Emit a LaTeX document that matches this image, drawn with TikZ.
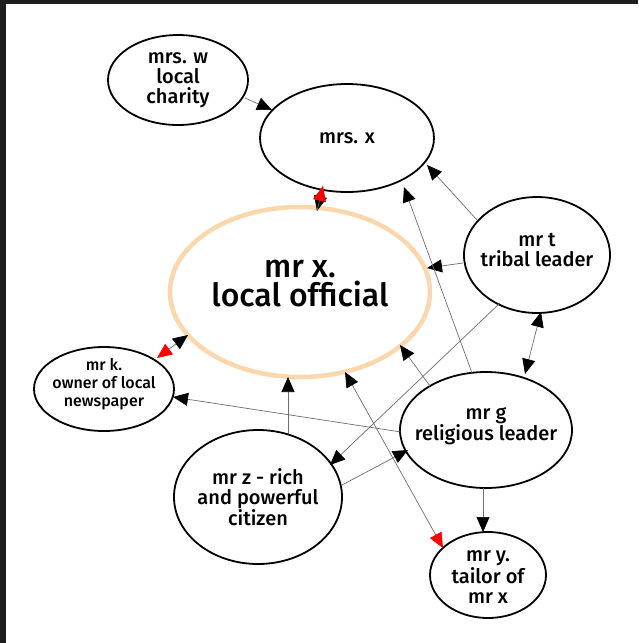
\documentclass[tikz,border=0pt]{standalone}
\usepackage{fontspec}
\setmainfont{Fira Sans}[UprightFont={* Medium}]
\usetikzlibrary{arrows.meta,shapes.geometric}
\definecolor{peach}{RGB}{252,214,172}
\definecolor{frame}{RGB}{30,30,30}
\definecolor{linkgray}{RGB}{110,110,110}
\tikzset{
  blk/.tip={Triangle[length=15pt,width=13pt,color=black]},
  rd/.tip={Triangle[length=15pt,width=13pt,color=red]},
  person/.style={ellipse,draw=black,line width=1.8pt,inner sep=0pt},
  txt/.style={align=center,inner sep=0pt,font=\fontsize{20}{20}\selectfont},
  link/.style={draw=linkgray,line width=0.7pt}
}
\begin{document}
\begin{tikzpicture}[x=1pt,y=-1pt]
\useasboundingbox (0,0) rectangle (638,643);
\fill[white] (0,0) rectangle (638,643);
\fill[frame] (0,0) rectangle (638,4);
\fill[frame] (0,0) rectangle (6,643);

\node[person,minimum width=140pt,minimum height=90pt,
  label={[txt]center:{mrs. w\\local\\charity}}] (w) at (178,80) {};
\node[person,minimum width=174pt,minimum height=108pt,
  label={[txt]center:{mrs. x}}] (x) at (347,138) {};
\node[ellipse,draw=peach,line width=4.5pt,inner sep=0pt,minimum width=260pt,minimum height=170pt,
  label={[txt,font=\fontsize{32}{29}\selectfont,yshift=8pt]center:{mr x.\\local official}}] (o) at (300,292) {};
\node[person,minimum width=146pt,minimum height=116pt,
  label={[txt,yshift=5pt]center:{mr t\\tribal leader}}] (t) at (537,255) {};
\node[person,minimum width=140pt,minimum height=84pt,
  label={[txt,font=\fontsize{16}{18}\selectfont,yshift=5pt]center:{mr k.\\owner of local\\newspaper}}] (k) at (104,389) {};
\node[person,minimum width=172pt,minimum height=116pt,
  label={[txt,yshift=4pt]center:{mr g\\religious leader}}] (g) at (486,430) {};
\node[person,minimum width=168pt,minimum height=134pt,
  label={[txt]center:{mr z - rich\\and powerful\\citizen}}] (z) at (258,497) {};
\node[person,minimum width=116pt,minimum height=86pt,
  label={[txt,yshift=-2pt]center:{mr y.\\tailor of\\mr x}}] (y) at (488,575) {};

\draw[link,-blk] ([shift={(67,18)}]w.center) -- ([shift={(-75,-28)}]x.center);
\draw[link,-blk] ([shift={(-24,48)}]x.center) -- ([shift={(17,-81)}]o.center);
\draw[link,-rd] ([shift={(17,-81)}]o.center) -- ([shift={(-24,48)}]x.center);
\draw[link,-blk] ([shift={(-60,-35)}]t.center) -- ([shift={(80,27)}]x.center);
\draw[link,-blk] ([shift={(-74,8)}]t.center) -- ([shift={(127,-24)}]o.center);
\draw[link,blk-blk] ([shift={(4,57)}]t.center) -- ([shift={(39,-56)}]g.center);
\draw[link,-blk] ([shift={(-37,48)}]t.center) -- ([shift={(72,-32)}]z.center);
\draw[link,-blk] ([shift={(-14,-57)}]g.center) -- ([shift={(57,49)}]x.center);
\draw[link,-blk] ([shift={(-56,-44)}]g.center) -- ([shift={(100,53)}]o.center);
\draw[link,-blk] ([shift={(-85,2)}]g.center) -- ([shift={(69,8)}]k.center);
\draw[link,-blk] ([shift={(-3,58)}]g.center) -- ([shift={(-5,-43)}]y.center);
\draw[link,-blk] ([shift={(84,-12)}]z.center) -- ([shift={(-78,20)}]g.center);
\draw[link,-blk] ([shift={(30,-63)}]z.center) -- ([shift={(-12,85)}]o.center);
\draw[link,blk-rd] ([shift={(45,80)}]o.center) -- ([shift={(-45,-27)}]y.center);
\draw[link,blk-rd] ([shift={(-112,43)}]o.center) -- ([shift={(53,-31)}]k.center);
\end{tikzpicture}
\end{document}
